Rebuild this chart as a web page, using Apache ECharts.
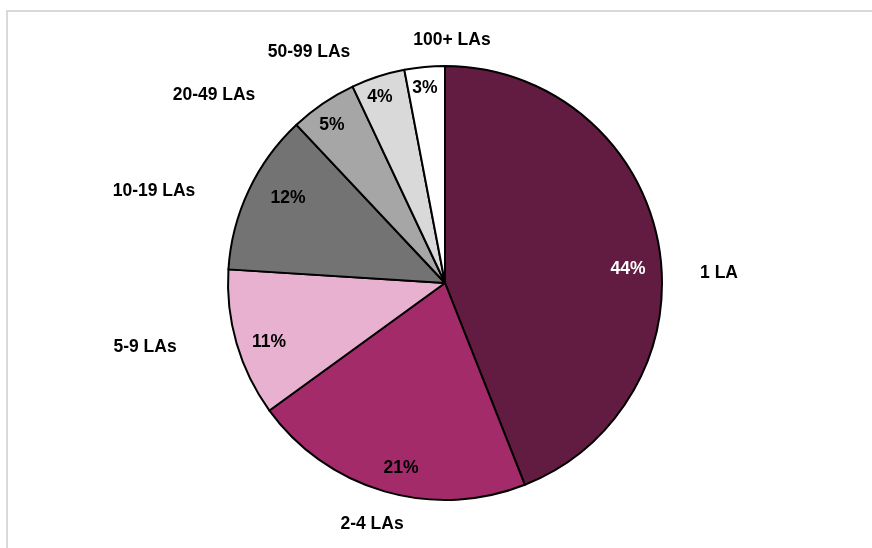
<!DOCTYPE html>
<html>
<head>
<meta charset="utf-8">
<script src="https://cdn.jsdelivr.net/npm/echarts@6/dist/echarts.min.js"></script>
<style>
  html, body { margin: 0; padding: 0; background: #ffffff; }
  #chart { width: 872px; height: 548px; }
</style>
</head>
<body>
<div id="chart"></div>
<script>
// Share of providers by number of local authorities served
const categories = ['1 LA', '2-4 LAs', '5-9 LAs', '10-19 LAs', '20-49 LAs', '50-99 LAs', '100+ LAs'];
const shares = [44, 21, 11, 12, 5, 4, 3];
const sliceColors = ['#621B41', '#A32B69', '#E9B1D0', '#737373', '#A6A6A6', '#D9D9D9', '#FFFFFF'];
const pctTextColors = ['#FFFFFF', '#000000', '#000000', '#000000', '#000000', '#000000', '#000000'];

// label anchor points (layout only)
const pctLabelAt = [[628, 269], [401, 468], [269, 342], [288, 198], [332, 125], [380, 97], [425, 88]];
const nameLabelAt = [[719, 273], [372, 524], [145, 347], [154, 191], [214, 95], [309, 52], [452, 40]];

const FONT = '"Liberation Sans", Arial, sans-serif';
const CENTER = [445, 283];
const RADIUS = 217;

const chart = echarts.init(document.getElementById('chart'), null, { renderer: 'canvas' });

chart.setOption({
  animation: false,
  backgroundColor: '#ffffff',
  graphic: [{
    type: 'rect',
    shape: { x: 7, y: 11, width: 900, height: 600 },
    style: { fill: 'none', stroke: '#D9D9D9', lineWidth: 2 },
    silent: true
  }],
  series: [
    {
      type: 'pie',
      center: CENTER,
      radius: RADIUS,
      startAngle: 90,
      clockwise: true,
      avoidLabelOverlap: false,
      emphasis: { disabled: true },
      itemStyle: { borderColor: '#000000', borderWidth: 2 },
      label: {
        show: true,
        position: 'inside',
        formatter: '{c}%',
        fontFamily: FONT,
        fontWeight: 'bold',
        fontSize: 17.5
      },
      labelLine: { show: false },
      labelLayout: function (p) {
        const pt = pctLabelAt[p.dataIndex];
        return { x: pt[0], y: pt[1], align: 'center', verticalAlign: 'middle' };
      },
      data: categories.map((name, i) => ({
        name: name,
        value: shares[i],
        itemStyle: { color: sliceColors[i] },
        label: { color: pctTextColors[i] }
      }))
    },
    {
      type: 'pie',
      center: CENTER,
      radius: RADIUS,
      startAngle: 90,
      clockwise: true,
      silent: true,
      avoidLabelOverlap: false,
      emphasis: { disabled: true },
      itemStyle: { color: 'rgba(0,0,0,0)', borderWidth: 0 },
      label: {
        show: true,
        position: 'outside',
        formatter: '{b}',
        color: '#000000',
        fontFamily: FONT,
        fontWeight: 'bold',
        fontSize: 17.5
      },
      labelLine: { show: false },
      labelLayout: function (p) {
        const pt = nameLabelAt[p.dataIndex];
        return { x: pt[0], y: pt[1], align: 'center', verticalAlign: 'middle' };
      },
      data: categories.map((name, i) => ({ name: name, value: shares[i] }))
    }
  ]
});
</script>
</body>
</html>
